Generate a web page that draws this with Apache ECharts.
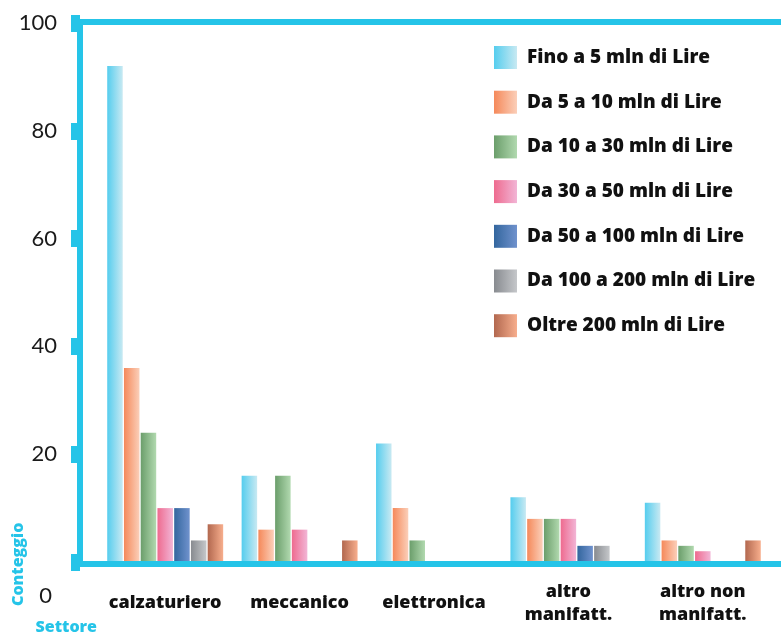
<!DOCTYPE html>
<html>
<head>
<meta charset="utf-8">
<script src="https://cdn.jsdelivr.net/npm/echarts@6/dist/echarts.min.js"></script>
<style>
  html, body { margin: 0; padding: 0; background: #ffffff; }
  #chart { width: 781px; height: 635px; }
</style>
</head>
<body>
<div id="chart"></div>
<script>
// Settori (categorie sull'asse x)
const settori = ['calzaturiero', 'meccanico', 'elettronica', 'altro\nmanifatt.', 'altro non\nmanifatt.'];

// Fasce di fatturato (serie)
const fasce = [
  'Fino a 5 mln di Lire',
  'Da 5 a 10 mln di Lire',
  'Da 10 a 30 mln di Lire',
  'Da 30 a 50 mln di Lire',
  'Da 50 a 100 mln di Lire',
  'Da 100 a 200 mln di Lire',
  'Oltre 200 mln di Lire'
];

// Conteggi per settore, una lista per fascia
const fino5      = [92, 16, 22, 12, 11];
const da5a10     = [36,  6, 10,  8,  4];
const da10a30    = [24, 16,  4,  8,  3];
const da30a50    = [10,  6,  0,  8,  2];
const da50a100   = [10,  0,  0,  3,  0];
const da100a200  = [ 4,  0,  0,  3,  0];
const oltre200   = [ 7,  4,  0,  0,  4];

// Etichette dell'asse del conteggio
const yTicks = [0, 20, 40, 60, 80, 100];

const valori = [fino5, da5a10, da10a30, da30a50, da50a100, da100a200, oltre200];

// Sfumature delle barre (sinistra -> destra)
const sfumature = [
  ['#55cdee', '#c8e9f2'],
  ['#f5895a', '#fbcfb9'],
  ['#6b9e6b', '#b1d9af'],
  ['#ee6b8f', '#f2b5d6'],
  ['#33669e', '#7092cd'],
  ['#888b90', '#c5c7ca'],
  ['#b2684f', '#f7ae8d']
];

const AZZURRO = '#25c4e8';
const FONT_NUM = 'Lato';
const FONT_TXT = 'Open Sans';

function sfumatura(c) {
  return new echarts.graphic.LinearGradient(0, 0, 1, 0, [
    { offset: 0, color: c[0] },
    { offset: 1, color: c[1] }
  ]);
}

const chart = echarts.init(document.getElementById('chart'), null, { renderer: 'canvas' });

const option = {
  animation: false,
  backgroundColor: '#ffffff',
  textStyle: { fontFamily: FONT_TXT },
  legend: {
    orient: 'vertical',
    left: 494,
    top: 46,
    padding: 0,
    itemWidth: 23,
    itemHeight: 23,
    itemGap: 21.7,
    icon: 'rect',
    data: fasce,
    textStyle: {
      fontFamily: FONT_TXT,
      fontSize: 19,
      fontWeight: 800,
      color: '#111111',
      padding: [0, 0, 0, 5]
    }
  },
  grid: [
    { left: 98, right: 11, top: 23, bottom: 71 },
    { left: 80, right: 0, top: 22, bottom: 71 }
  ],
  xAxis: [
    {
      type: 'category',
      gridIndex: 0,
      data: settori,
      axisLine: { show: false },
      axisTick: { show: false },
      axisLabel: {
        interval: 0,
        margin: 41,
        verticalAlign: 'middle',
        lineHeight: 23,
        fontFamily: FONT_TXT,
        fontSize: 18,
        fontWeight: 800,
        color: '#111111'
      },
      name: 'Settore',
      nameLocation: 'start',
      nameGap: 1,
      nameTextStyle: {
        fontFamily: FONT_TXT,
        fontSize: 16,
        fontWeight: 800,
        color: AZZURRO,
        align: 'right',
        verticalAlign: 'top',
        padding: [57, 0, 0, 0]
      }
    },
    {
      type: 'value',
      gridIndex: 1,
      position: 'bottom',
      z: 5,
      axisLine: { show: true, lineStyle: { color: AZZURRO, width: 6 } },
      axisTick: { show: false },
      axisLabel: { show: false },
      splitLine: { show: false }
    },
    {
      type: 'value',
      gridIndex: 1,
      position: 'top',
      z: 5,
      axisLine: { show: true, lineStyle: { color: AZZURRO, width: 6 } },
      axisTick: { show: false },
      axisLabel: { show: false },
      splitLine: { show: false }
    }
  ],
  yAxis: [
    {
      type: 'value',
      gridIndex: 0,
      min: yTicks[0],
      max: yTicks[yTicks.length - 1],
      interval: yTicks[1] - yTicks[0],
      offset: 18,
      z: 5,
      axisLine: { show: true, lineStyle: { color: AZZURRO, width: 6 } },
      axisTick: { show: true, length: 9, lineStyle: { color: AZZURRO, width: 17 } },
      splitLine: { show: false },
      axisLabel: {
        margin: 23,
        fontFamily: FONT_NUM,
        fontSize: 22,
        color: '#1a1a1a',
        formatter: function (v) {
          return v === 0 ? '{zero|0}' : String(v);
        },
        rich: {
          zero: {
            fontFamily: FONT_NUM,
            fontSize: 22,
            color: '#1a1a1a',
            padding: [68, 5, 0, 0]
          }
        }
      },
      name: 'Conteggio',
      nameLocation: 'start',
      nameGap: 44,
      nameRotate: 90,
      nameTextStyle: {
        fontFamily: FONT_TXT,
        fontSize: 16,
        fontWeight: 800,
        color: AZZURRO,
        align: 'left',
        verticalAlign: 'bottom',
        padding: [0, 0, 54, 0]
      }
    },
    { type: 'value', gridIndex: 1, show: false }
  ],
  series: fasce.map(function (nome, i) {
    return {
      name: nome,
      type: 'bar',
      xAxisIndex: 0,
      yAxisIndex: 0,
      barWidth: 15.5,
      barGap: '8%',
      itemStyle: { color: sfumatura(sfumature[i]) },
      data: valori[i]
    };
  })
};

chart.setOption(option);
</script>
</body>
</html>
